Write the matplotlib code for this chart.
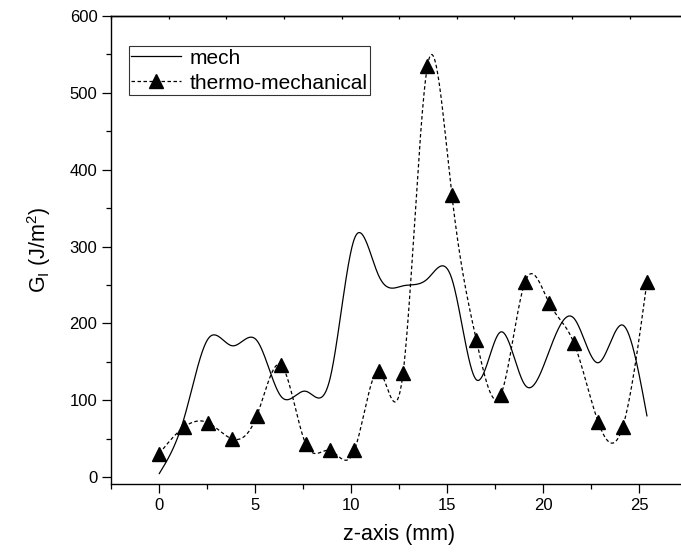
import numpy as np
import matplotlib
matplotlib.use("Agg")
import matplotlib.pyplot as plt
from matplotlib.ticker import MultipleLocator

# ---- data ----
z_mm = [0.0, 1.27, 2.54, 3.81, 5.08, 6.35, 7.62, 8.89, 10.16, 11.43, 12.70,
        13.97, 15.24, 16.51, 17.78, 19.05, 20.32, 21.59, 22.86, 24.13, 25.40]
g_mech = [5, 75, 180, 171, 178, 105, 112, 128, 310, 262, 249,
          258, 258, 127, 189, 120, 165, 207, 149, 198, 80]
g_thermo = [31, 65, 71, 50, 80, 146, 44, 35, 35, 138, 136,
            535, 367, 179, 107, 254, 226, 175, 72, 65, 254]
legend_labels = ["mech", "thermo-mechanical"]
x_label = "z-axis (mm)"
y_label = r"G$_\mathregular{I}$ (J/m$^\mathregular{2}$)"


def natural_spline(x, y, xs):
    x = np.asarray(x, float)
    y = np.asarray(y, float)
    n = len(x)
    h = np.diff(x)
    A = np.zeros((n, n))
    b = np.zeros(n)
    A[0, 0] = 1
    A[-1, -1] = 1
    for i in range(1, n - 1):
        A[i, i - 1] = h[i - 1]
        A[i, i] = 2 * (h[i - 1] + h[i])
        A[i, i + 1] = h[i]
        b[i] = 3 * ((y[i + 1] - y[i]) / h[i] - (y[i] - y[i - 1]) / h[i - 1])
    c = np.linalg.solve(A, b)
    bc = (y[1:] - y[:-1]) / h - h * (2 * c[:-1] + c[1:]) / 3
    d = (c[1:] - c[:-1]) / (3 * h)
    idx = np.clip(np.searchsorted(x, xs) - 1, 0, n - 2)
    dx = xs - x[idx]
    return y[idx] + bc[idx] * dx + c[idx] * dx ** 2 + d[idx] * dx ** 3


plt.rcParams['font.family'] = ['Liberation Sans', 'DejaVu Sans']
plt.rcParams['mathtext.fontset'] = 'custom'
plt.rcParams['mathtext.rm'] = 'Liberation Sans'

fig = plt.figure(figsize=(6.81, 5.59), dpi=100)
ax = fig.add_axes([0.1634, 0.1336, 0.8458, 0.8383])

xs = np.linspace(z_mm[0], z_mm[-1], 1500)
ax.plot(xs, natural_spline(z_mm, g_mech, xs), color='black', lw=0.9)
ax.plot(xs, natural_spline(z_mm, g_thermo, xs), color='black', lw=0.9,
        dashes=(2.8, 2.0))
ax.plot(z_mm, g_thermo, linestyle='none', marker='^', color='black',
        markersize=10)

# legend proxies
h1, = ax.plot([], [], color='black', lw=0.9)
h2, = ax.plot([], [], color='black', lw=0.9, dashes=(2.8, 2.0), marker='^',
              markersize=10)
leg = ax.legend([h1, h2], legend_labels, loc='upper left',
                bbox_to_anchor=(0.030, 0.9353), borderaxespad=0,
                fontsize=15, frameon=True, fancybox=False, numpoints=1,
                handlelength=2.4, handletextpad=0.4, labelspacing=0.3,
                borderpad=0.12, edgecolor='black')
leg.get_frame().set_linewidth(0.8)

ax.set_xlim(-2.5, 27.5)
ax.set_ylim(-9, 600)
ax.xaxis.set_major_locator(MultipleLocator(5))
ax.xaxis.set_minor_locator(MultipleLocator(2.5))
ax.yaxis.set_major_locator(MultipleLocator(100))
ax.yaxis.set_minor_locator(MultipleLocator(50))
ax.tick_params(which='both', direction='out', top=False, right=False,
               labelsize=12, width=0.9)
ax.tick_params(which='major', length=6.5)
ax.tick_params(which='minor', length=3.6)
for s in ax.spines.values():
    s.set_linewidth(1.0)

sec = ax.secondary_xaxis('top')
sec.set_xticks(np.linspace(-2.5, 27.5, 11))
sec.tick_params(direction='in', length=2, width=0.9, labeltop=False)
sec.spines['top'].set_linewidth(1.0)

ax.set_xlabel(x_label, fontsize=15.5, labelpad=8)
ax.set_ylabel(y_label, fontsize=15.5, labelpad=12)

fig.savefig("out.png", dpi=100)
